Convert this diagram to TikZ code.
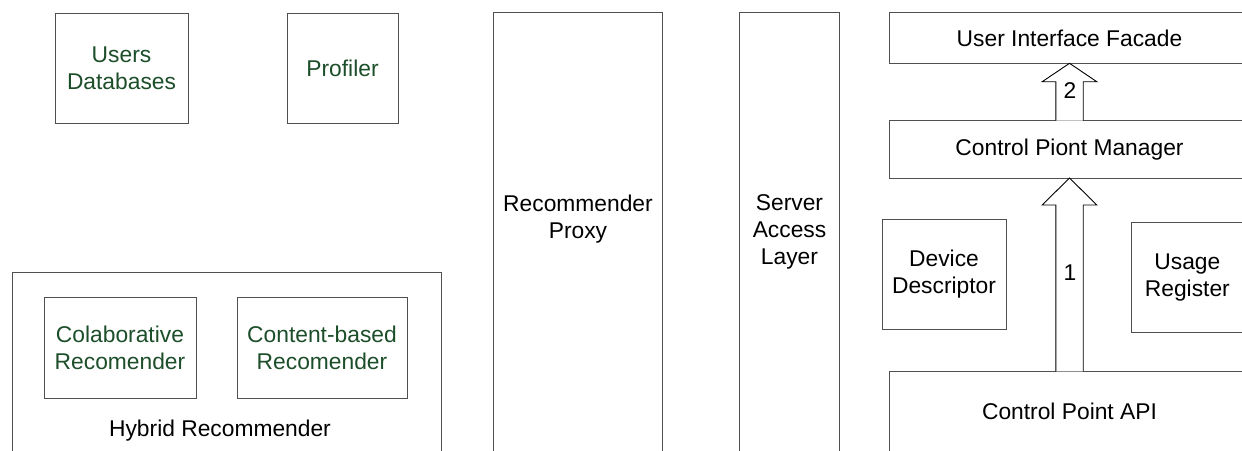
\documentclass[tikz,border=0pt]{standalone}
\usepackage{fontspec}
\setmainfont{Liberation Sans}
\usetikzlibrary{calc}
\definecolor{edge}{RGB}{80,80,80}
\definecolor{leaf}{RGB}{28,78,42}
\begin{document}
\begin{tikzpicture}[x=1pt,y=-1pt,
  box/.style={draw=edge, line width=1pt, fill=white, inner sep=0pt, outer sep=0pt},
  txt/.style={font=\fontsize{22.8}{27}\selectfont, align=center, inner sep=0pt},
  leaftxt/.style={txt, text=leaf},
  blockarrow/.style={draw=black, line width=0.9pt, fill=white, line join=miter}]
\path[use as bounding box] (0,0) rectangle (1242,450);
\clip (0,0) rectangle (1242,450);

% recommender side
\node[box, leaftxt, minimum width=133, minimum height=110] (udb) at (121.5,68) {Users\\Databases};
\node[box, leaftxt, minimum width=111, minimum height=110] (prof) at (342.5,68) {Profiler};
\node[box, minimum width=429, minimum height=207.3] (hyb) at (226.5,376.35) {};
\node[box, leaftxt, minimum width=152, minimum height=101] (colab) at (120,347.5) {Colaborative\\Recomender};
\node[box, leaftxt, minimum width=170, minimum height=101] (content) at (322,347.5) {Content-based\\Recomender};
\node[txt] (hybtxt) at (220,431) {Hybrid Recommender};

% middle layers
\node[box, minimum width=169.4, minimum height=467.3] (proxy) at (578,246.35) {};
\node[txt] (proxytxt) at (578,219) {Recommender\\Proxy};
\node[box, minimum width=99.6, minimum height=467.3] (sal) at (789.5,246.35) {};
\node[txt] (saltxt) at (789.5,232) {Server\\Access\\Layer};

% control point side
\node[box, txt, minimum width=361, minimum height=50.6] (uif) at (1069.5,38) {User Interface Facade};
\node[box, txt, minimum width=361, minimum height=57.3] (cpm) at (1069.5,149.35) {Control Piont Manager};
\node[box, txt, minimum width=124, minimum height=110] (dev) at (944,274.3) {Device\\Descriptor};
\node[box, txt, minimum width=111.3, minimum height=109.6] (usage) at (1187.35,277.5) {Usage\\Register};
\node[box, minimum width=361, minimum height=108.7] (cpa) at (1069.5,425.65) {};
\node[txt] (cpatxt) at (1069.5,411) {Control Point API};

% block arrows
\draw[blockarrow] let \p1=(cpa.north), \p2=(cpm.south) in
  (\x2-13.7pt,\y1) -- (\x2-13.7pt,\y2-27pt) -- (\x2-27.3pt,\y2-27pt) -- (\x2,\y2)
  -- (\x2+27.3pt,\y2-27pt) -- (\x2+13.7pt,\y2-27pt) -- (\x2+13.7pt,\y1);
\draw[blockarrow] let \p1=(cpm.north), \p2=(uif.south) in
  (\x2-13.7pt,\y1) -- (\x2-13.7pt,\y2-18.4pt) -- (\x2-27.3pt,\y2-18.4pt) -- (\x2,\y2)
  -- (\x2+27.3pt,\y2-18.4pt) -- (\x2+13.7pt,\y2-18.4pt) -- (\x2+13.7pt,\y1);
\node[txt] (one) at (1070,273) {1};
\node[txt] (two) at (1070,91) {2};
\end{tikzpicture}
\end{document}
